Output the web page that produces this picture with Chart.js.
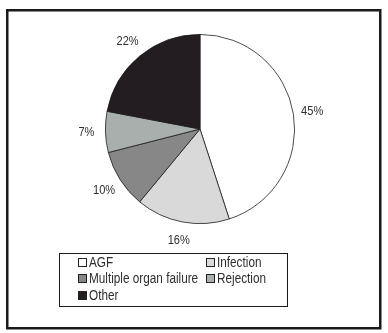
<!DOCTYPE html>
<html>
<head>
<meta charset="utf-8">
<script src="https://cdn.jsdelivr.net/npm/chart.js@4.4.0/dist/chart.umd.min.js"></script>
<style>
  html, body { margin: 0; padding: 0; background: #fff; }
  #wrap { width: 388px; height: 333px; position: relative; }
</style>
</head>
<body>
<div id="wrap"><canvas id="c" width="388" height="333"></canvas></div>
<script>
const categories = ["AGF", "Infection", "Multiple organ failure", "Rejection", "Other"];
const percentages = [45, 16, 10, 7, 22];
const sliceColors = ["#ffffff", "#d9d9d9", "#878787", "#a9afad", "#231c21"];

const FONT = "'Liberation Sans', Arial, sans-serif";
const TEXT = "#2e2e2e";

function narrowText(ctx, txt, x, y, align, squeeze) {
  ctx.save();
  ctx.translate(x, y);
  ctx.scale(squeeze, 1);
  ctx.textAlign = align;
  ctx.fillText(txt, 0, 0);
  ctx.restore();
}

const framePlugin = {
  id: 'frame',
  beforeDraw(chart) {
    const ctx = chart.ctx;
    ctx.save();
    ctx.fillStyle = '#fff';
    ctx.fillRect(0, 0, chart.width, chart.height);
    ctx.strokeStyle = '#1a1a1a';
    ctx.lineWidth = 2.5;
    ctx.strokeRect(7.25, 10.25, 373, 318);
    ctx.restore();
  }
};

const labelPlugin = {
  id: 'pctLabels',
  afterDatasetsDraw(chart) {
    const ctx = chart.ctx;
    const meta = chart.getDatasetMeta(0);
    const data = chart.data.datasets[0].data;
    ctx.save();
    ctx.font = "13.5px " + FONT;
    ctx.fillStyle = TEXT;
    ctx.textBaseline = 'middle';
    meta.data.forEach((arc, i) => {
      const p = arc.getProps(['x', 'y', 'startAngle', 'endAngle', 'outerRadius'], true);
      const mid = (p.startAngle + p.endAngle) / 2;
      const r = p.outerRadius + 19;
      narrowText(ctx, data[i] + '%', p.x + Math.cos(mid) * r, p.y + Math.sin(mid) * r, 'center', 0.82);
    });
    ctx.restore();
  }
};

const legendPlugin = {
  id: 'boxLegend',
  afterDraw(chart) {
    const ctx = chart.ctx;
    const ds = chart.data.datasets[0];
    ctx.save();
    ctx.strokeStyle = '#1a1a1a';
    ctx.lineWidth = 1;
    ctx.strokeRect(59.5, 253.5, 228, 53);
    const colX = [78, 206];
    const rowY = [263, 279, 296];
    ctx.font = "14px " + FONT;
    ctx.textBaseline = 'middle';
    chart.data.labels.forEach((lab, i) => {
      const col = i % 2, row = Math.floor(i / 2);
      const x = colX[col], y = rowY[row];
      ctx.fillStyle = ds.backgroundColor[i];
      ctx.fillRect(x + 0.5, y - 4.5, 8, 8);
      ctx.strokeStyle = '#222';
      ctx.lineWidth = 1;
      ctx.strokeRect(x + 0.5, y - 4.5, 8, 8);
      ctx.fillStyle = TEXT;
      narrowText(ctx, lab, x + 11, y + 0.5, 'left', 0.84);
    });
    ctx.restore();
  }
};

new Chart(document.getElementById('c'), {
  type: 'pie',
  data: {
    labels: categories,
    datasets: [{
      data: percentages,
      backgroundColor: sliceColors,
      borderColor: '#1e1e1e',
      borderWidth: 0.8,
      hoverOffset: 0,
      offset: 0
    }]
  },
  options: {
    responsive: false,
    animation: false,
    events: [],
    layout: { padding: { left: 105, right: 93, top: 34, bottom: 109 } },
    plugins: {
      legend: { display: false },
      tooltip: { enabled: false },
      title: { display: false }
    }
  },
  plugins: [framePlugin, labelPlugin, legendPlugin]
});
</script>
</body>
</html>
